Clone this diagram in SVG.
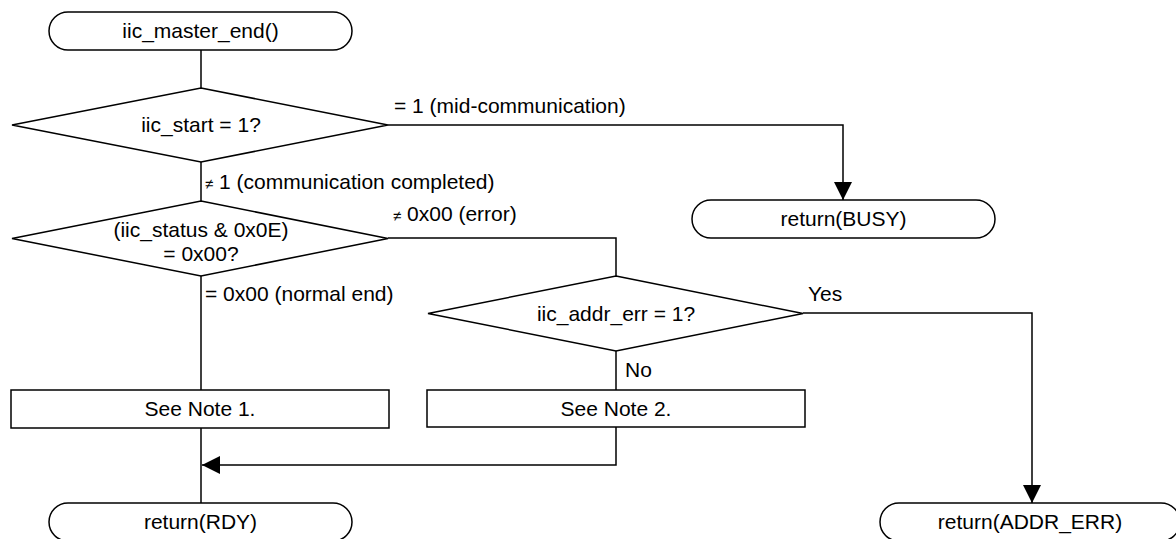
<svg xmlns="http://www.w3.org/2000/svg" width="1176" height="539" viewBox="0 0 1176 539">
  <style>
    .shape { fill: #ffffff; stroke: #000000; stroke-width: 1.5; }
    .wire { fill: none; stroke: #000000; stroke-width: 1.5; }
    text { font-family: "Liberation Sans", Arial, sans-serif; font-size: 21px; fill: #000000; }
    .c { text-anchor: middle; }
    .ne { font-size: 15px; }
  </style>
  <defs>
    <marker id="arrow" markerUnits="userSpaceOnUse" markerWidth="18" markerHeight="18" viewBox="0 0 16 16" refX="16" refY="8" orient="auto">
      <path d="M0,0 L16,8 L0,16 Z" fill="#000000"/>
    </marker>
  </defs>

  <!-- flow lines -->
  <g id="connectors">
    <line class="wire" x1="201" y1="50" x2="201" y2="88"/>
    <line class="wire" x1="201" y1="162" x2="201" y2="201"/>
    <line class="wire" x1="201" y1="276" x2="201" y2="390"/>
    <line class="wire" x1="201" y1="428" x2="201" y2="503"/>
    <polyline class="wire" points="388,125 843,125 843,200" marker-end="url(#arrow)"/>
    <polyline class="wire" points="388,238 616,238 616,276"/>
    <line class="wire" x1="616" y1="351" x2="616" y2="390"/>
    <polyline class="wire" points="616,427 616,465 202,465" marker-end="url(#arrow)"/>
    <polyline class="wire" points="803,313 1032,313 1032,503" marker-end="url(#arrow)"/>
    <text x="394" y="113">= 1 (mid-communication)</text>
    <text x="205" y="189"><tspan class="ne">≠</tspan> 1 (communication completed)</text>
    <text x="393" y="221"><tspan class="ne">≠</tspan> 0x00 (error)</text>
    <text x="205" y="301">= 0x00 (normal end)</text>
    <text x="808" y="301">Yes</text>
    <text x="625" y="377">No</text>
  </g>

  <g id="start">
    <rect class="shape" x="49" y="12" width="303" height="38" rx="19" ry="19"/>
    <text class="c" x="200.5" y="38">iic_master_end()</text>
  </g>

  <g id="check-start">
    <polygon class="shape" points="201,88 388,125 201,162 12,125"/>
    <text class="c" x="201" y="132">iic_start = 1?</text>
  </g>

  <g id="busy">
    <rect class="shape" x="692" y="200" width="303" height="38" rx="19" ry="19"/>
    <text class="c" x="843.5" y="226">return(BUSY)</text>
  </g>

  <g id="check-status">
    <polygon class="shape" points="201,201 388,238.5 201,276 12,238.5"/>
    <text class="c" x="201" y="237">(iic_status &amp; 0x0E)</text>
    <text class="c" x="201" y="261">= 0x00?</text>
  </g>

  <g id="check-addr">
    <polygon class="shape" points="616,276 803,313.5 616,351 428,313.5"/>
    <text class="c" x="616" y="321">iic_addr_err = 1?</text>
  </g>

  <g id="note1">
    <rect class="shape" x="11" y="390" width="378" height="38"/>
    <text class="c" x="200" y="416">See Note 1.</text>
  </g>

  <g id="note2">
    <rect class="shape" x="427" y="390" width="378" height="37"/>
    <text class="c" x="616" y="416">See Note 2.</text>
  </g>

  <g id="rdy">
    <rect class="shape" x="49" y="503" width="303" height="38" rx="19" ry="19"/>
    <text class="c" x="200.5" y="529">return(RDY)</text>
  </g>

  <g id="addr-err">
    <rect class="shape" x="880" y="503" width="300" height="38" rx="19" ry="19"/>
    <text class="c" x="1030" y="529">return(ADDR_ERR)</text>
  </g>
</svg>
